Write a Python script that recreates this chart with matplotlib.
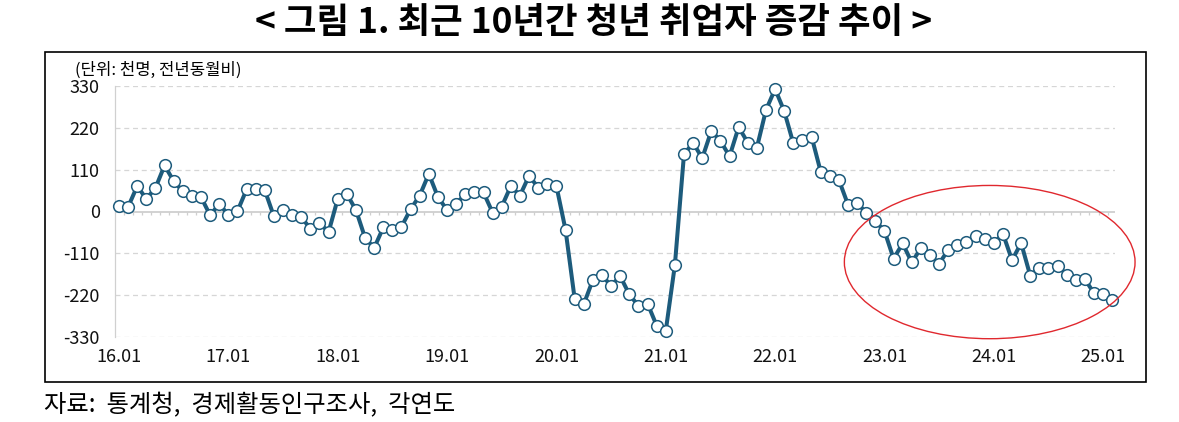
import matplotlib
matplotlib.use("Agg")
import matplotlib.pyplot as plt
from matplotlib.patches import Ellipse, Rectangle
import numpy as np

plt.rcParams['font.family'] = ['Noto Sans CJK KR', 'DejaVu Sans']

# monthly youth employment change (thousand persons, y/y), 16.01 .. 25.02
values = [
    15, 12, 67, 33, 62, 121, 80, 53, 40, 38, -10, 20,
    -9, 1, 58, 58, 56, -13, 4, -8, -15, -45, -30, -54,
    33, 46, 4, -69, -96, -42, -49, -40, 6, 42, 99, 38,
    4, 21, 45, 51, 50, -3, 13, 67, 42, 94, 63, 73,
    67, -48, -229, -244, -180, -168, -195, -170, -218, -248, -242, -300,
    -314, -141, 150, 181, 140, 212, 186, 145, 222, 181, 168, 267,
    322, 264, 179, 188, 197, 105, 94, 83, 18, 22, -3, -25,
    -51, -124, -84, -134, -96, -115, -137, -101, -87, -79, -64, -73,
    -84, -58, -128, -83, -169, -149, -148, -142, -166, -180, -178, -215,
    -216, -232,
]
xtick_labels = ['16.01', '17.01', '18.01', '19.01', '20.01', '21.01', '22.01', '23.01', '24.01', '25.01']
yticks = [330, 220, 110, 0, -110, -220, -330]

title = '< 그림 1. 최근 10년간 청년 취업자 증감 추이 >'
unit_label = '(단위: 천명, 전년동월비)'
source = '자료:  통계청,  경제활동인구조사,  각연도'

W, H = 1179, 422
fig = plt.figure(figsize=(W / 100, H / 100), dpi=100)
ax = fig.add_axes([115 / W, 1 - 337 / H, 1000 / W, 251 / H])

x = np.arange(len(values))
line_color = '#1D5B7C'
ax.plot(x, values, color=line_color, lw=2.9, zorder=3, solid_joinstyle='round')
ax.plot(x, values, ls='none', marker='o', ms=8.4, mfc='white', mec=line_color,
        mew=1.1, zorder=4, clip_on=False)

ax.set_xlim(-0.44, 109.3)
ax.set_ylim(-330, 330)

# gridlines
for v in yticks:
    if v == 0:
        ax.axhline(v, color='#cfcfcf', lw=1.3, zorder=1)
    else:
        ax.axhline(v, color='#d6d6d6', lw=0.9, ls=(0, (4, 3)), zorder=1)
# small category ticks on zero line
half = np.arange(len(values)) + 0.5
ax.vlines(half, -9, 0, color='#cfcfcf', lw=0.9, zorder=1)

for s in ['top', 'right', 'bottom']:
    ax.spines[s].set_visible(False)
ax.spines['left'].set_color('#d0d0d0')
ax.spines['left'].set_linewidth(0.9)

ax.set_yticks(yticks)
ax.set_yticklabels([str(v) for v in yticks])
ax.tick_params(axis='y', length=0, pad=11, labelsize=13, labelcolor='#111111')
ax.set_xticks(np.arange(0, len(values), 12))
ax.set_xticklabels(xtick_labels)
ax.tick_params(axis='x', length=0, pad=8, labelsize=13, labelcolor='#111111')
for lab in ax.get_yticklabels() + ax.get_xticklabels():
    lab.set_fontweight('medium')

# red ellipse highlight
ell = Ellipse((95.55, -133), width=31.9, height=403, fill=False,
              edgecolor='#e0282e', lw=1.0, zorder=5, clip_on=False)
ax.add_patch(ell)

# frame
fig.patches.append(Rectangle((45 / W, 1 - 382 / H), 1101 / W, 330 / H,
                             transform=fig.transFigure, fill=False,
                             edgecolor='black', lw=1.2))

fig.text(75 / W, 1 - 70 / H, unit_label, ha='left', va='center', fontsize=12)
fig.text(594 / W, 1 - 23 / H, title, ha='center', va='center', fontsize=25.5,
         fontweight='bold')
fig.text(44 / W, 1 - 405 / H, source, ha='left', va='center', fontsize=17.5)

fig.savefig('out.png', dpi=100)
